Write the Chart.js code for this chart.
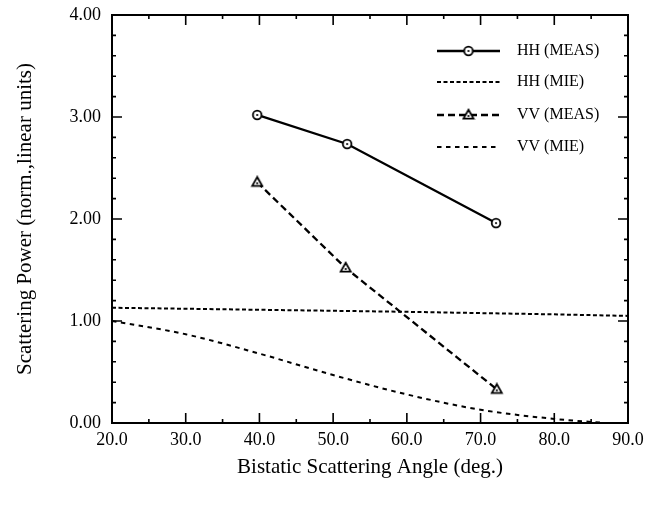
<!DOCTYPE html>
<html><head><meta charset="utf-8">
<script src="https://cdn.jsdelivr.net/npm/chart.js@4.4.1/dist/chart.umd.min.js"></script>
<style>html,body{margin:0;padding:0;background:#fff;}#wrap{position:relative;width:657px;height:506px;}</style>
</head><body><div id="wrap"><canvas id="c" width="657" height="506"></canvas></div>
<script>
// ---- data ----
const xTickValues = [20, 30, 40, 50, 60, 70, 80, 90];
const yTickValues = [0, 1, 2, 3, 4];
const seriesNames = ['HH (MEAS)', 'HH (MIE)', 'VV (MEAS)', 'VV (MIE)'];
const hhMeasAngles = [39.7, 51.9, 72.1];
const hhMeas = [3.02, 2.735, 1.96];
const vvMeasAngles = [39.7, 51.7, 72.2];
const vvMeas = [2.36, 1.52, 0.33];
const hhMieAngles = [20, 40, 60, 80, 90];
const hhMie = [1.13, 1.11, 1.09, 1.065, 1.05];
const vvMieAngles = [20, 30, 40, 50, 60, 70, 80, 87];
const vvMie = [1.00, 0.87, 0.68, 0.47, 0.28, 0.13, 0.04, 0.00];
const xTitle = 'Bistatic Scattering Angle (deg.)';
const yTitle = 'Scattering Power (norm.,linear units)';

const FONT = '"Liberation Serif", "Times New Roman", serif';

function pts(xs, ys) { return xs.map((x, i) => ({ x: x, y: ys[i] })); }

function markerCanvas(kind) {
  const s = 14, c = document.createElement('canvas');
  c.width = s; c.height = s;
  const g = c.getContext('2d');
  g.fillStyle = '#fff'; g.strokeStyle = '#000'; g.lineWidth = 1.8;
  g.beginPath();
  if (kind === 'circle') {
    g.arc(s / 2, s / 2, 4.3, 0, Math.PI * 2);
  } else {
    g.moveTo(s / 2, s / 2 - 5.2);
    g.lineTo(s / 2 + 5, s / 2 + 3.6);
    g.lineTo(s / 2 - 5, s / 2 + 3.6);
    g.closePath();
  }
  g.fill(); g.stroke();
  g.fillStyle = '#000';
  g.beginPath(); g.arc(s / 2, kind === 'circle' ? s / 2 : s / 2 + 1, 1.1, 0, Math.PI * 2); g.fill();
  return c;
}
const circleImg = markerCanvas('circle');
const triImg = markerCanvas('triangle');

const datasets = [
  { label: seriesNames[0], data: pts(hhMeasAngles, hhMeas), borderColor: '#000', borderWidth: 2.3,
    pointStyle: circleImg, pointRadius: 5, borderDash: [] },
  { label: seriesNames[1], data: pts(hhMieAngles, hhMie), borderColor: '#000', borderWidth: 2,
    pointRadius: 0, borderDash: [4, 2.5] },
  { label: seriesNames[2], data: pts(vvMeasAngles, vvMeas), borderColor: '#000', borderWidth: 2.3,
    pointStyle: triImg, pointRadius: 5, borderDash: [7, 4] },
  { label: seriesNames[3], data: pts(vvMieAngles, vvMie), borderColor: '#000', borderWidth: 2,
    pointRadius: 0, borderDash: [4.5, 4.5], cubicInterpolationMode: 'monotone' }
];

const framePlugin = {
  id: 'frame',
  afterDatasetsDraw(chart) {
    const { ctx, chartArea: a, scales: { x, y } } = chart;
    ctx.save();
    ctx.strokeStyle = '#000';
    ctx.lineWidth = 2;
    ctx.strokeRect(a.left, a.top, a.right - a.left, a.bottom - a.top);
    ctx.lineWidth = 1.6;
    ctx.beginPath();
    for (let v = 20; v <= 90; v += 5) {
      const px = x.getPixelForValue(v);
      const L = (v % 10 === 0) ? 10 : 4;
      ctx.moveTo(px, a.bottom); ctx.lineTo(px, a.bottom - L);
      ctx.moveTo(px, a.top); ctx.lineTo(px, a.top + L);
    }
    for (let i = 0; i <= 20; i++) {
      const v = i * 0.2;
      const py = y.getPixelForValue(v);
      const L = (i % 5 === 0) ? 10 : 4;
      ctx.moveTo(a.left, py); ctx.lineTo(a.left + L, py);
      ctx.moveTo(a.right, py); ctx.lineTo(a.right - L, py);
    }
    ctx.stroke();
    ctx.restore();
  }
};

const legendPlugin = {
  id: 'customLegend',
  afterDraw(chart) {
    const ctx = chart.ctx;
    const rowsY = [51, 82, 115, 147];
    const x0 = 437, x1 = 500, tx = 517;
    ctx.save();
    chart.data.datasets.forEach((ds, i) => {
      const yy = rowsY[i];
      ctx.strokeStyle = ds.borderColor;
      ctx.lineWidth = ds.borderWidth;
      ctx.setLineDash(ds.borderDash || []);
      ctx.beginPath(); ctx.moveTo(x0, yy); ctx.lineTo(x1, yy); ctx.stroke();
      ctx.setLineDash([]);
      if (ds.pointRadius > 0 && ds.pointStyle) {
        const img = ds.pointStyle;
        ctx.drawImage(img, (x0 + x1) / 2 - img.width / 2, yy - img.height / 2);
      }
      ctx.fillStyle = '#000';
      ctx.font = '16px ' + FONT;
      ctx.textBaseline = 'middle';
      ctx.textAlign = 'left';
      ctx.fillText(ds.label, tx, yy);
    });
    ctx.restore();
  }
};

new Chart(document.getElementById('c'), {
  type: 'line',
  data: { datasets: datasets },
  options: {
    responsive: false,
    animation: false,
    layout: { padding: { top: 15, right: 29, left: 0, bottom: 0 } },
    plugins: { legend: { display: false }, tooltip: { enabled: false } },
    scales: {
      x: {
        type: 'linear', min: 20, max: 90,
        afterBuildTicks: (s) => { s.ticks = xTickValues.map(v => ({ value: v })); },
        afterFit: (s) => { s.height = 83; s.paddingLeft = 0; s.paddingRight = 0; },
        ticks: { color: '#000', font: { family: FONT, size: 18 }, padding: 6, maxRotation: 0,
                 callback: (v) => Number(v).toFixed(1) },
        grid: { display: false, drawTicks: false },
        border: { display: false },
        title: { display: true, text: xTitle, color: '#000', font: { family: FONT, size: 21 },
                 padding: { top: 0, bottom: 26 } }
      },
      y: {
        type: 'linear', min: 0, max: 4,
        afterBuildTicks: (s) => { s.ticks = yTickValues.map(v => ({ value: v })); },
        afterFit: (s) => { s.width = 112; s.paddingTop = 0; s.paddingBottom = 0; },
        ticks: { color: '#000', font: { family: FONT, size: 18 }, padding: 11,
                 callback: (v) => Number(v).toFixed(2) },
        grid: { display: false, drawTicks: false },
        border: { display: false },
        title: { display: true, text: yTitle, color: '#000', font: { family: FONT, size: 21 },
                 padding: { top: 13, bottom: 0 } }
      }
    }
  },
  plugins: [framePlugin, legendPlugin]
});
</script></body></html>
